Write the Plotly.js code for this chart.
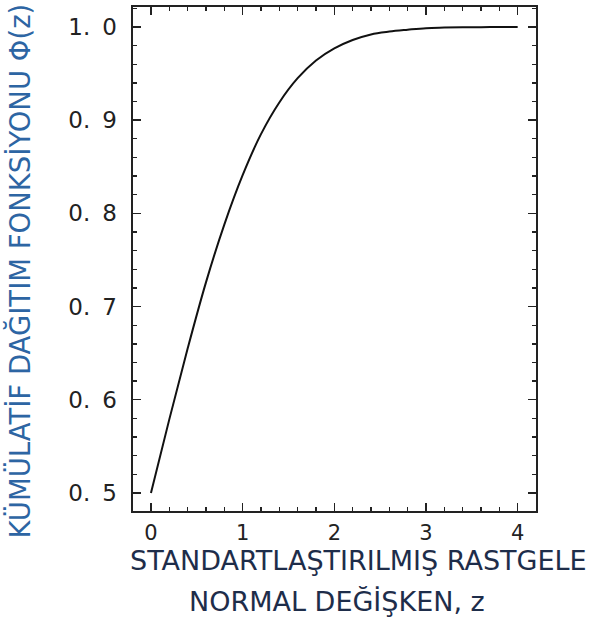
<!DOCTYPE html>
<html>
<head>
<meta charset="utf-8">
<script src="https://cdn.plot.ly/plotly-3.0.1.min.js"></script>
<style>html,body{margin:0;padding:0;background:#fff;}#chart{width:591px;height:623px;}</style>
</head>
<body>
<div id="chart"></div>
<script>
// Standardized normal variable z and cumulative distribution Φ(z)
var zValues = [0, 0.2, 0.4, 0.6, 0.8, 1.0, 1.2, 1.4, 1.6, 1.8, 2.0, 2.2, 2.4, 2.6, 2.8, 3.0, 3.2, 3.4, 3.6, 3.8, 4.0];
var phiValues = [0.500, 0.579, 0.655, 0.726, 0.788, 0.841, 0.885, 0.919, 0.945, 0.964, 0.977, 0.986, 0.992, 0.995, 0.997, 0.9987, 0.9993, 0.9997, 0.9998, 0.9999, 1.000];
var yTickVals = [0.5, 0.6, 0.7, 0.8, 0.9, 1.0];
var yTickText = ["0.\u00A0\u20095", "0.\u00A0\u20096", "0.\u00A0\u20097", "0.\u00A0\u20098", "0.\u00A0\u20099", "1.\u00A0\u20090"];
var xTickVals = [0, 1, 2, 3, 4];
var xTickText = ["0", "1", "2", "3", "4"];
var yTitle = "KÜMÜLATİF DAĞITIM FONKSİYONU Φ(z)";
var xTitleLine1 = "STANDARTLAŞTIRILMIŞ RASTGELE";
var xTitleLine2 = "NORMAL DEĞİŞKEN, z";

var trace = {
  x: zValues, y: phiValues, type: 'scatter', mode: 'lines',
  line: {color: '#111', width: 2, shape: 'spline'}, hoverinfo: 'skip'
};
var axisCommon = {
  showgrid: false, zeroline: false, showline: true, linecolor: '#222', linewidth: 1.6,
  mirror: 'allticks', ticks: 'inside', ticklen: 8, tickwidth: 1.4, tickcolor: '#222',
  minor: {ticks: 'inside', ticklen: 4, tickwidth: 1.3, tickcolor: '#222'}
};
var layout = {
  width: 591, height: 623,
  margin: {l: 133, r: 55, t: 7, b: 112},
  paper_bgcolor: '#fff', plot_bgcolor: '#fff',
  showlegend: false,
  xaxis: Object.assign({}, axisCommon, {
    range: [-0.196, 4.2], tickmode: 'array', tickvals: xTickVals, ticktext: xTickText,
    minor: Object.assign({}, axisCommon.minor, {dtick: 0.2, tick0: 0}),
    tickfont: {family: 'DejaVu Sans', size: 21, color: '#222'}, ticklabelstandoff: 2
  }),
  yaxis: Object.assign({}, axisCommon, {
    range: [0.4807, 1.0214], tickmode: 'array', tickvals: yTickVals, ticktext: yTickText,
    minor: Object.assign({}, axisCommon.minor, {dtick: 0.02, tick0: 0.5}),
    tickfont: {family: 'DejaVu Sans', size: 23, color: '#222'}, ticklabelstandoff: 10
  }),
  annotations: [
    {text: yTitle, xref: 'paper', yref: 'paper', x: -0.282, y: 0.476, textangle: -90,
     showarrow: false, xanchor: 'center', yanchor: 'middle',
     font: {family: 'DejaVu Sans', size: 27.5, color: '#2d65a3'}},
    {text: xTitleLine1, xref: 'paper', yref: 'paper', x: (358 - 133) / 403, y: (511 - 560) / 504,
     showarrow: false, xanchor: 'center', yanchor: 'middle',
     font: {family: 'DejaVu Sans', size: 27, color: '#1e2d4a'}},
    {text: xTitleLine2, xref: 'paper', yref: 'paper', x: (337 - 133) / 403, y: (511 - 601) / 504,
     showarrow: false, xanchor: 'center', yanchor: 'middle',
     font: {family: 'DejaVu Sans', size: 27, color: '#1e2d4a'}}
  ]
};
Plotly.newPlot('chart', [trace], layout, {staticPlot: true, displayModeBar: false});
</script>
</body>
</html>
